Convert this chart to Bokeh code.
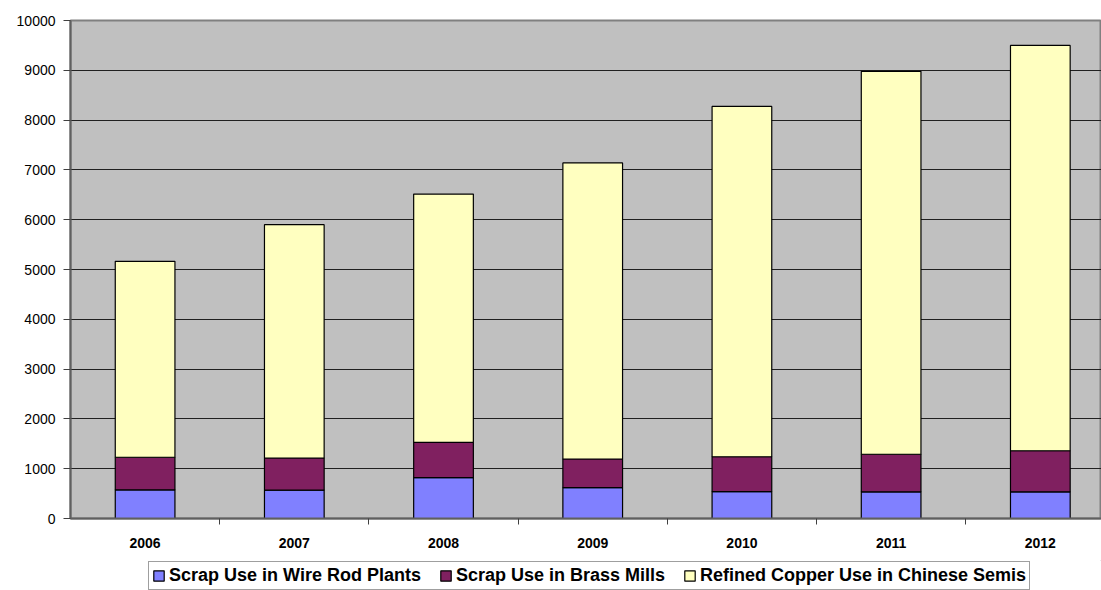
from bokeh.plotting import figure
from bokeh.layouts import column
from bokeh.models import (Range1d, LinearAxis, FixedTicker, Legend, LegendItem,
                          ColumnDataSource)
from bokeh.embed import file_html
from bokeh.resources import INLINE

years = ["2006", "2007", "2008", "2009", "2010", "2011", "2012"]
wire_rod = [575, 570, 820, 620, 540, 535, 535]
brass = [655, 645, 710, 575, 700, 755, 825]
refined = [3935, 4685, 4985, 5945, 7035, 7690, 8140]
series_names = ["Scrap Use in Wire Rod Plants", "Scrap Use in Brass Mills",
                "Refined Copper Use in Chinese Semis"]
colors = ["#8080FF", "#802060", "#FFFFC0"]
y_ticks = list(range(0, 10001, 1000))

xs = list(range(len(years)))
src = ColumnDataSource(dict(x=xs, wire=wire_rod, brass=brass, refined=refined))

FONT = "Liberation Sans"

p = figure(width=1101, height=560, output_backend="svg", toolbar_location=None,
           x_range=Range1d(-0.5, 6.41), y_range=Range1d(0, 10000),
           x_axis_location=None, y_axis_location=None,
           min_border_left=70, min_border_right=0, min_border_top=20,
           min_border_bottom=42)
p.background_fill_color = "#C0C0C0"
p.border_fill_color = "white"
p.outline_line_color = "#808080"
p.outline_line_width = 2

r = p.vbar_stack(["wire", "brass", "refined"], x="x", width=0.4, source=src,
                 fill_color=colors, line_color="black", line_width=1.2)

# y axis
yax = LinearAxis(ticker=FixedTicker(ticks=y_ticks))
yax.major_tick_in = 0
yax.major_tick_out = 7
yax.minor_tick_out = 0
yax.minor_tick_in = 0
yax.axis_line_color = "#606060"
yax.axis_line_width = 2
yax.major_tick_line_color = "#404040"
yax.major_label_text_font = FONT
yax.major_label_text_font_size = "14px"
yax.major_label_text_color = "black"
yax.major_label_standoff = 8
p.add_layout(yax, "left")

p.ygrid.ticker = FixedTicker(ticks=y_ticks)
p.ygrid.grid_line_color = "#202020"
p.ygrid.grid_line_width = 1
p.xgrid.visible = False

# x axis: labels at category centres, tick marks between categories
xax = LinearAxis(ticker=FixedTicker(ticks=xs, minor_ticks=[i + 0.5 for i in xs]))
xax.major_label_overrides = {i: y for i, y in zip(xs, years)}
xax.major_tick_in = 0
xax.major_tick_out = 0
xax.minor_tick_in = 0
xax.minor_tick_out = 6
xax.minor_tick_line_color = "#404040"
xax.axis_line_color = "#606060"
xax.axis_line_width = 2
xax.major_label_text_font = FONT
xax.major_label_text_font_style = "bold"
xax.major_label_text_font_size = "14px"
xax.major_label_text_color = "black"
xax.major_label_standoff = 13
p.add_layout(xax, "below")

# legend in a strip below the chart
lg = figure(width=1101, height=30, output_backend="svg", toolbar_location=None,
            x_range=Range1d(0, 1), y_range=Range1d(0, 1),
            x_axis_location=None, y_axis_location=None,
            min_border=0, min_border_left=0, min_border_right=0,
            min_border_top=0, min_border_bottom=0)
lg.outline_line_color = None
lg.xgrid.visible = False
lg.ygrid.visible = False
# swatch renderers kept outside the strip's visible range
dummies = [lg.vbar(x=[5], top=[5], bottom=[4], width=0.1, fill_color=c,
                   line_color="black", line_width=1.2) for c in colors]

legend = Legend(items=[LegendItem(label=n, renderers=[rr]) for n, rr in zip(series_names, dummies)],
                orientation="horizontal", location=(78, 0))
legend.label_text_font = FONT
legend.label_text_font_style = "bold"
legend.label_text_font_size = "18px"
legend.label_text_color = "black"
legend.label_standoff = 4
legend.glyph_width = 13
legend.glyph_height = 13
legend.spacing = 18
legend.padding = 3
legend.margin = 0
legend.border_line_color = "#404040"
legend.border_line_width = 1
legend.label_height = 17
legend.background_fill_color = "white"
legend.background_fill_alpha = 1
lg.add_layout(legend, "center")

layout = column(p, lg, spacing=0)
open("out.html", "w").write(file_html(layout, INLINE))
